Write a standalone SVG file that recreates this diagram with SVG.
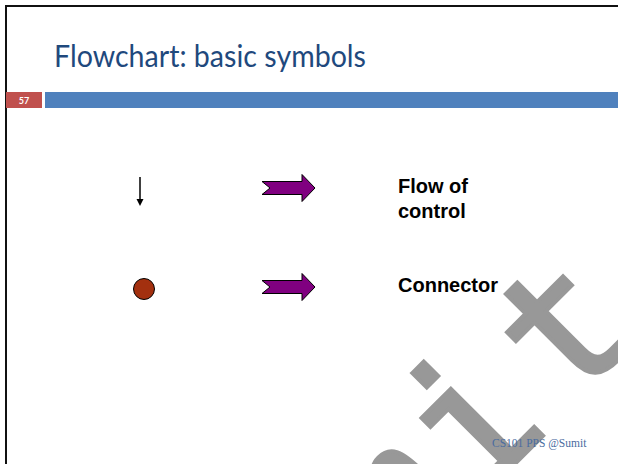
<svg xmlns="http://www.w3.org/2000/svg" width="618" height="464" viewBox="0 0 618 464">
  <style>
    .title { font-family: Lato, "Open Sans", sans-serif; font-size: 31px; fill: #1f497d; }
    .label { font-family: "Liberation Sans", Arial, sans-serif; font-size: 20px; font-weight: bold; fill: #000; }
    .block { fill: #800080; stroke: #000; stroke-width: 1; }
    .mark { font-family: "DejaVu Sans Mono", monospace; font-size: 180px; fill: #989898; stroke: #989898; stroke-width: 4; stroke-linejoin: miter; }
    .footer { font-family: "Liberation Serif", serif; font-size: 11.5px; fill: #4a6ca0; }
  </style>
  <defs>
    <polygon id="block-arrow" points="0,-6.5 40,-6.5 40,-13.5 53,0 40,13.5 40,6.5 0,6.5 8,0"/>
  </defs>

  <rect width="618" height="464" fill="#fff"/>

  <!-- slide frame -->
  <path d="M6,464 V6 H618" fill="none" stroke="#111" stroke-width="2"/>

  <!-- header -->
  <text class="title" x="54" y="67" textLength="312" lengthAdjust="spacingAndGlyphs">Flowchart: basic symbols</text>
  <rect x="6" y="92" width="36" height="16" fill="#c0504d"/>
  <text x="24" y="104" text-anchor="middle" font-family="Lato, sans-serif" font-size="9" font-weight="bold" fill="#fff">57</text>
  <rect x="45" y="92" width="573" height="16" fill="#4f81bd"/>

  <!-- diagonal watermark, baseline running up to the right -->
  <g id="watermark" transform="translate(489.3,489.3) rotate(-45)">
    <text class="mark" x="-350 -242 -134 -20 112" y="0">Sumit</text>
  </g>

  <!-- symbols -->
  <g id="flow-symbol">
    <line x1="140" y1="177" x2="140" y2="200" stroke="#000" stroke-width="1.5"/>
    <polygon points="136.5,199 143.5,199 140,206" fill="#000"/>
  </g>
  <g id="connector-symbol">
    <circle cx="144" cy="289" r="10.5" fill="#a3300f" stroke="#000" stroke-width="1"/>
  </g>

  <!-- block arrows pointing to the descriptions -->
  <g id="connectors">
    <use href="#block-arrow" class="block" transform="translate(262,188)"/>
    <use href="#block-arrow" class="block" transform="translate(262,287)"/>
  </g>

  <!-- descriptions -->
  <g id="label-flow">
    <text class="label" x="398" y="193">Flow of</text>
    <text class="label" x="398" y="218">control</text>
  </g>
  <g id="label-connector">
    <text class="label" x="398" y="292">Connector</text>
  </g>

  <text class="footer" x="492" y="447">CS101 PPS @Sumit</text>
</svg>
